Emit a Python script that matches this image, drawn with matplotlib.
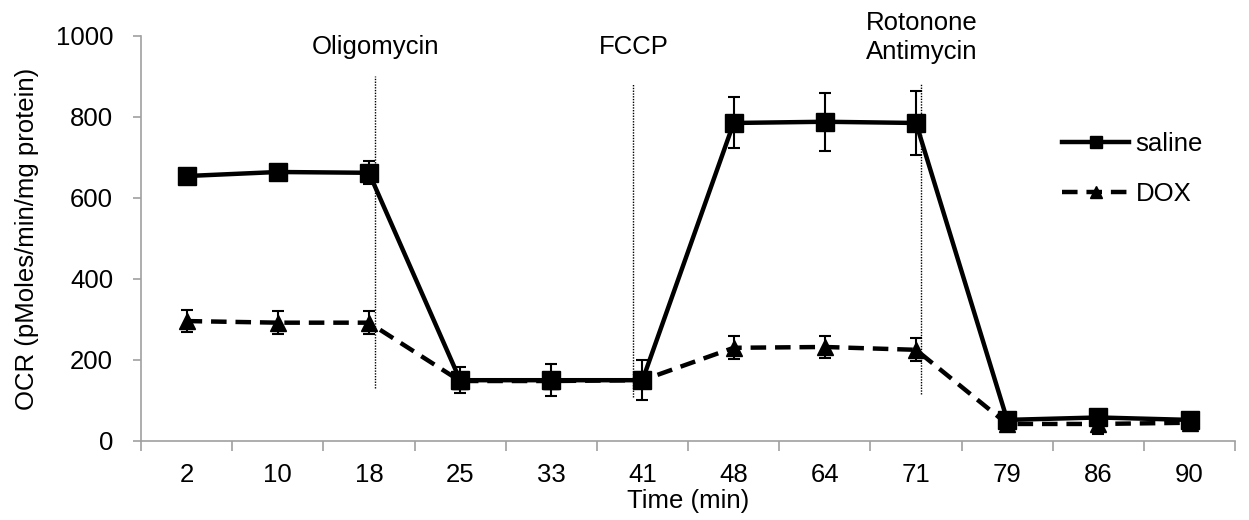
import matplotlib
matplotlib.use("Agg")
import matplotlib.pyplot as plt
from matplotlib.lines import Line2D
import numpy as np

plt.rcParams['font.family'] = ['Liberation Sans', 'DejaVu Sans']

time_labels = ["2", "10", "18", "25", "33", "41", "48", "64", "71", "79", "86", "90"]
saline = [654, 664, 662, 150, 150, 150, 785, 788, 785, 52, 58, 52]
saline_err = [12, 12, 28, 32, 40, 50, 63, 72, 80, 15, 18, 15]
dox = [296, 292, 292, 148, 148, 150, 230, 232, 225, 42, 42, 45]
dox_err = [28, 28, 28, 20, 20, 20, 28, 28, 28, 18, 25, 18]

event_labels = ["Oligomycin", "FCCP", "Rotonone\nAntimycin"]
event_pos = [2.07, 4.9, 8.06]
event_ytop = [900, 880, 880]
event_ybot = [130, 108, 115]
event_text_y = [973, 973, 996]

FS = 18.5

fig = plt.figure(figsize=(12.49, 5.2), dpi=100)
ax = fig.add_axes([0.1129, 0.152, 0.876, 0.779])

x = np.arange(len(time_labels))

for xp, yt, yb in zip(event_pos, event_ytop, event_ybot):
    ax.plot([xp, xp], [yb, yt], color='black', lw=1.0, ls=(0, (1, 1)), zorder=1)

dash = (0, (3.5, 2))
ax.errorbar(x, saline, yerr=saline_err, color='black', lw=3.2, marker='s',
            markersize=13, capsize=4.5, elinewidth=1.5, capthick=1.5, zorder=3)
ax.errorbar(x, dox, yerr=dox_err, color='black', lw=3.2, ls=dash,
            marker='^', markersize=11, capsize=4.5, elinewidth=1.5, capthick=1.5,
            zorder=2)

for lab, xp, ty in zip(event_labels, event_pos, event_text_y):
    ax.text(xp, ty, lab, ha='center', va='center', fontsize=FS,
            linespacing=1.25, clip_on=False)

ax.set_xlim(-0.5, len(time_labels) - 0.5)
ax.set_ylim(0, 1000)
ax.set_yticks([0, 200, 400, 600, 800, 1000])
ax.set_xticks(x)
ax.set_xticklabels(time_labels)
ax.set_xticks(np.arange(-0.5, len(time_labels), 1.0), minor=True)
ax.tick_params(axis='x', which='major', length=0, labelsize=FS, pad=16)
ax.tick_params(axis='x', which='minor', length=7, width=1.2, color='#a0a0a0')
ax.tick_params(axis='y', which='major', length=6, width=1.2, color='#a0a0a0',
               labelsize=FS, pad=14)

for s in ['top', 'right']:
    ax.spines[s].set_visible(False)
for s in ['left', 'bottom']:
    ax.spines[s].set_color('#a0a0a0')
    ax.spines[s].set_linewidth(1.2)

ax.set_xlabel("Time (min)", fontsize=FS, labelpad=1)
ax.set_ylabel("OCR (pMoles/min/mg protein)", fontsize=FS, labelpad=12)

handles = [Line2D([], [], color='black', lw=3.2, marker='s', markersize=9),
           Line2D([], [], color='black', lw=3.2, ls=dash, marker='^', markersize=9)]
ax.legend(handles, ['saline', 'DOX'], loc='center left',
          bbox_to_anchor=(0.842, 0.672), frameon=False,
          fontsize=FS, handlelength=2.6, handletextpad=0.25, labelspacing=1.0,
          borderaxespad=0, borderpad=0)

fig.savefig("out.png", dpi=100)
